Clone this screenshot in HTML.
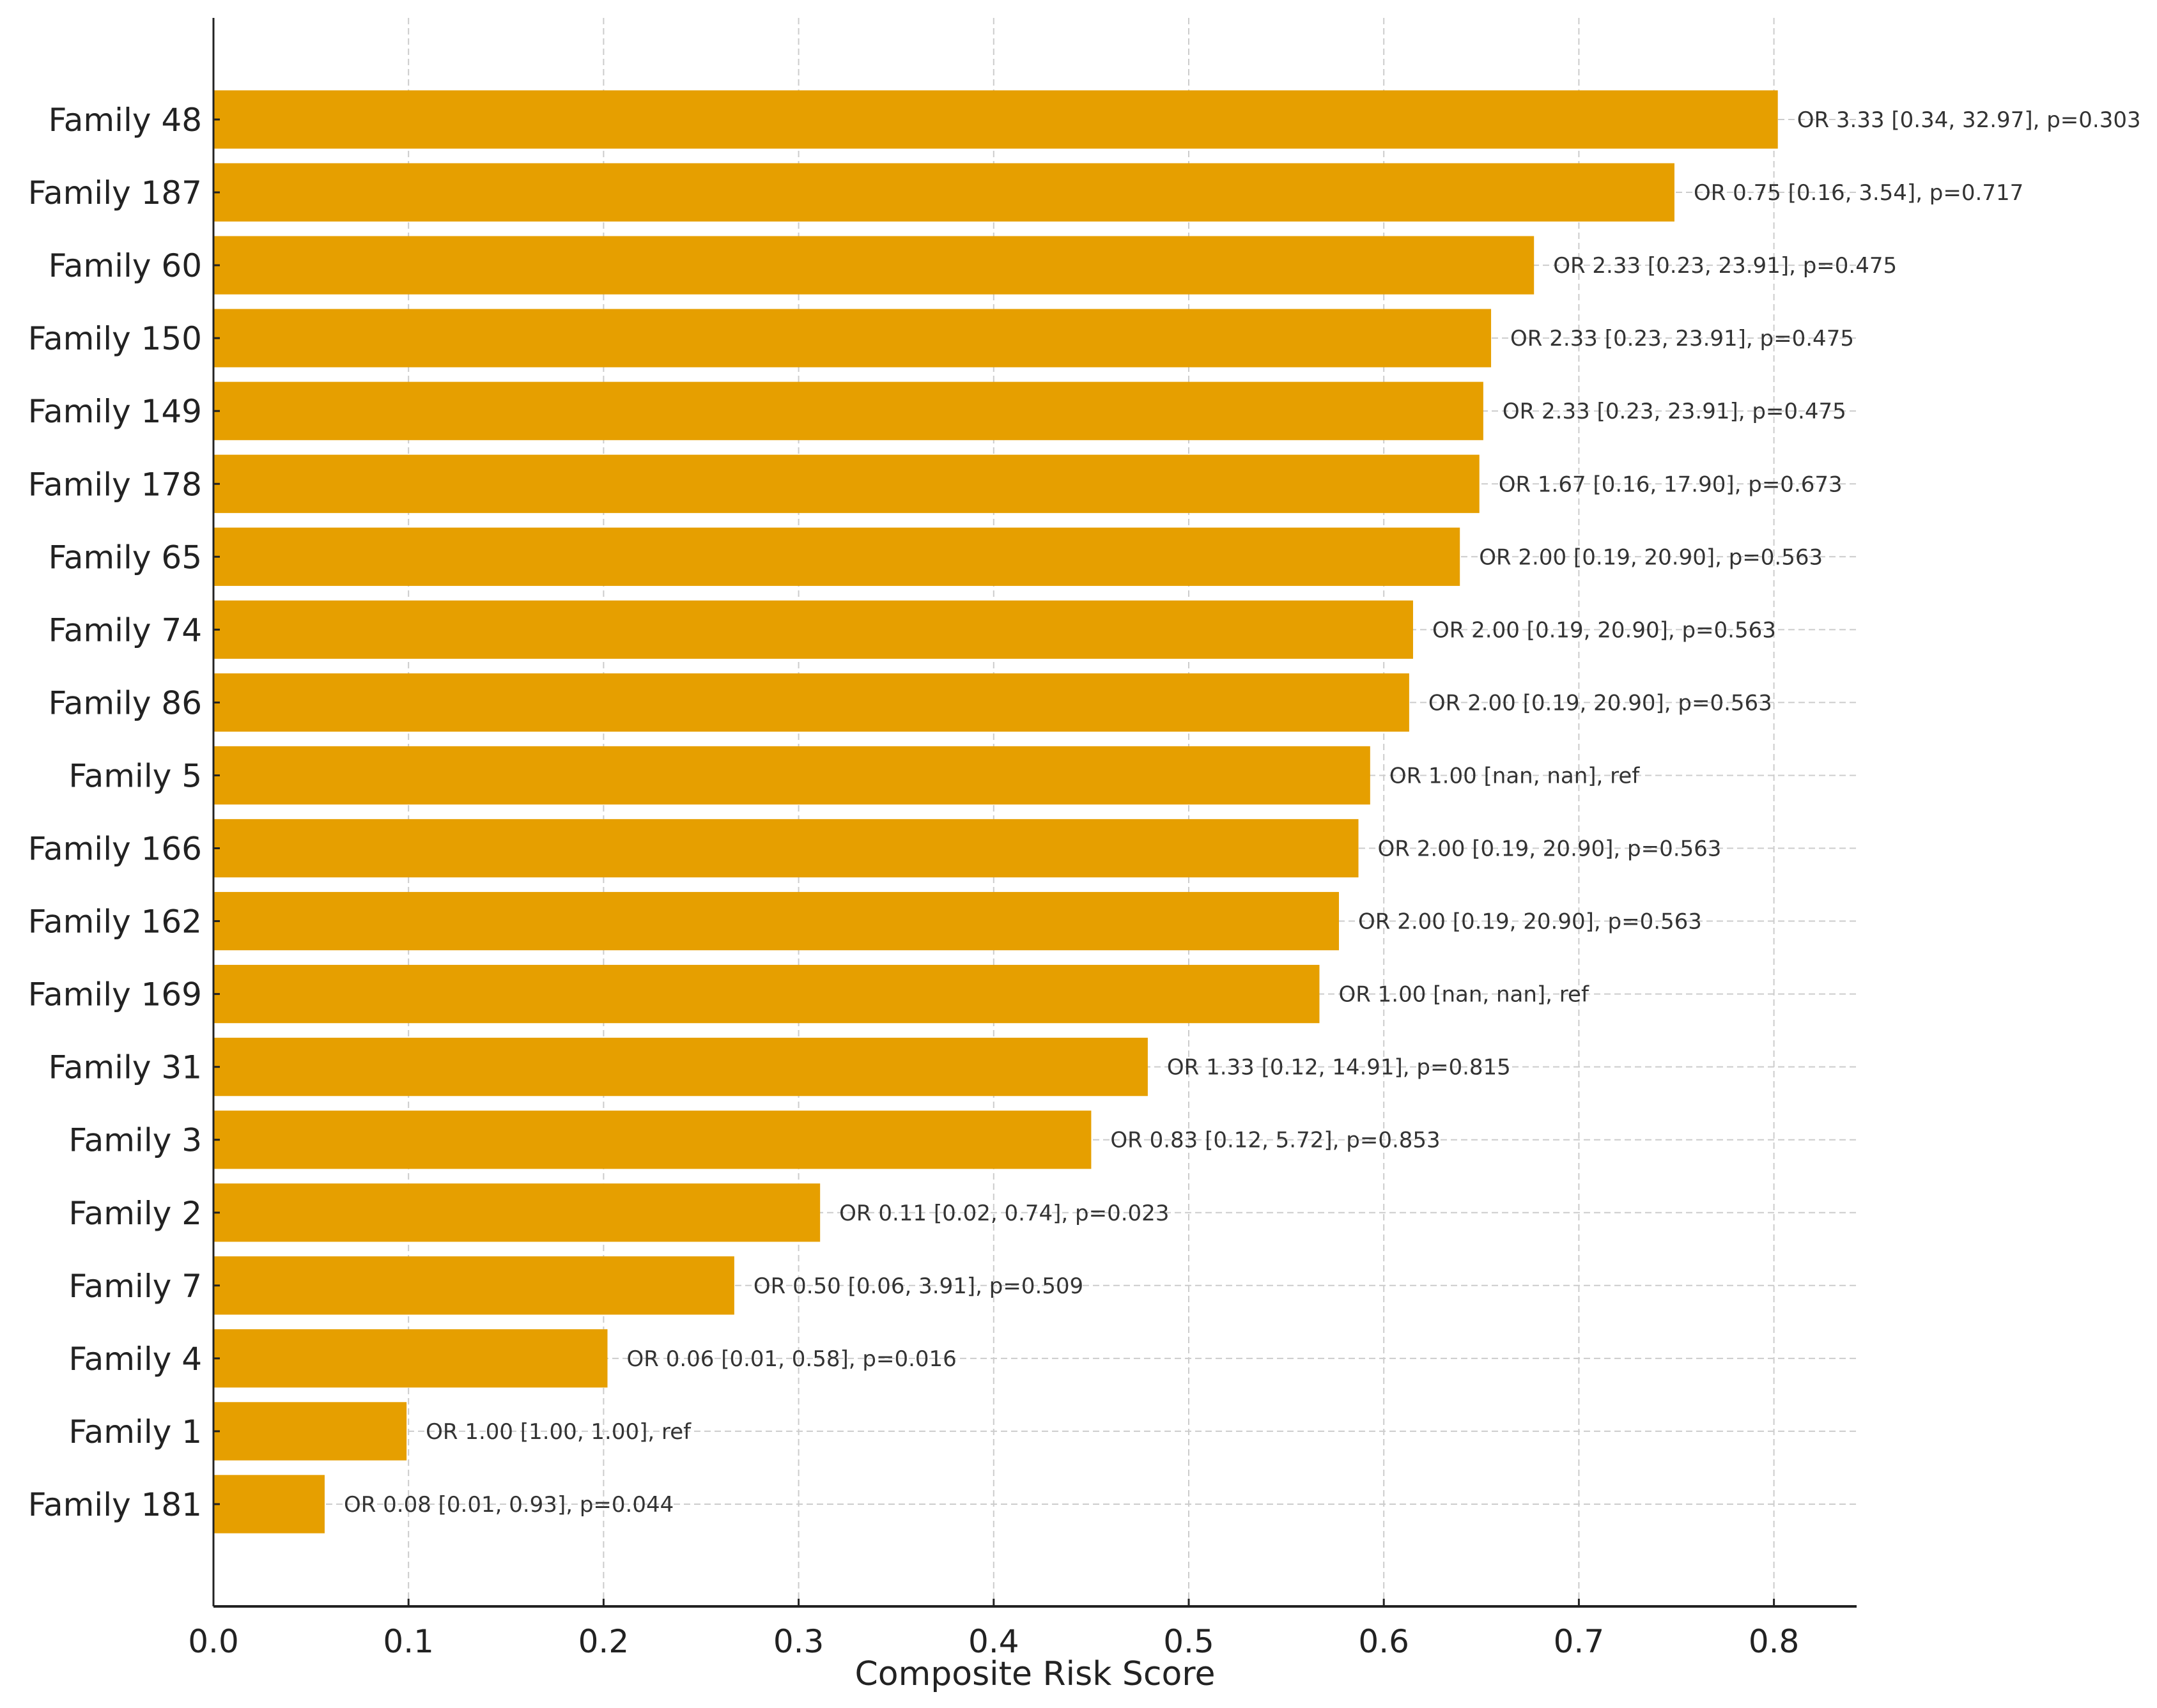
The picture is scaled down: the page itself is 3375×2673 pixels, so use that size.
<!DOCTYPE html>
<html><head><meta charset="utf-8"><style>
html,body{margin:0;padding:0;background:#fff;}
svg{display:block;font-family:"DejaVu Sans","Liberation Sans",sans-serif;}
</style></head><body>
<svg id="chart" width="3375" height="2673" viewBox="0 0 3375 2673"></svg>
<script>
const categories=["Family 48","Family 187","Family 60","Family 150","Family 149","Family 178","Family 65","Family 74","Family 86","Family 5","Family 166","Family 162","Family 169","Family 31","Family 3","Family 2","Family 7","Family 4","Family 1","Family 181"];
const scores=[0.802,0.749,0.677,0.655,0.651,0.649,0.639,0.615,0.613,0.593,0.587,0.577,0.567,0.479,0.450,0.311,0.267,0.202,0.099,0.057];
const annotations=["OR 3.33 [0.34, 32.97], p=0.303","OR 0.75 [0.16, 3.54], p=0.717","OR 2.33 [0.23, 23.91], p=0.475","OR 2.33 [0.23, 23.91], p=0.475","OR 2.33 [0.23, 23.91], p=0.475","OR 1.67 [0.16, 17.90], p=0.673","OR 2.00 [0.19, 20.90], p=0.563","OR 2.00 [0.19, 20.90], p=0.563","OR 2.00 [0.19, 20.90], p=0.563","OR 1.00 [nan, nan], ref","OR 2.00 [0.19, 20.90], p=0.563","OR 2.00 [0.19, 20.90], p=0.563","OR 1.00 [nan, nan], ref","OR 1.33 [0.12, 14.91], p=0.815","OR 0.83 [0.12, 5.72], p=0.853","OR 0.11 [0.02, 0.74], p=0.023","OR 0.50 [0.06, 3.91], p=0.509","OR 0.06 [0.01, 0.58], p=0.016","OR 1.00 [1.00, 1.00], ref","OR 0.08 [0.01, 0.93], p=0.044"];
const xTicks=[0,0.1,0.2,0.3,0.4,0.5,0.6,0.7,0.8];
const xTickLabels=["0.0","0.1","0.2","0.3","0.4","0.5","0.6","0.7","0.8"];

const svg=document.getElementById('chart');
const NS='http://www.w3.org/2000/svg';
const L=334,R=2905,T=28,B=2514;
const x0=334,pxPerUnit=3052;
const xs=v=>x0+v*pxPerUnit;
const yTop=187,step=114.05;
const ys=i=>yTop+i*step;
const bh=step*0.8;
function mk(tag,attrs){const e=document.createElementNS(NS,tag);for(const k in attrs)e.setAttribute(k,attrs[k]);svg.appendChild(e);return e;}

xTicks.forEach((t,i)=>{
  const g=mk('line',{x1:xs(t),x2:xs(t),y1:T,y2:B,stroke:'#cccccc','stroke-width':2,'stroke-dasharray':'10,6'});
  
  
});
categories.forEach((c,i)=>{
  const g=mk('line',{x1:L,x2:R,y1:ys(i),y2:ys(i),stroke:'#cccccc','stroke-width':2,'stroke-dasharray':'10,6'});
  
  
});
categories.forEach((c,i)=>{
  const r=mk('rect',{x:xs(0),y:ys(i)-bh/2,width:xs(scores[i])-xs(0),height:bh,fill:'#E69F00'});
  
  
  const a=mk('text',{x:xs(scores[i])+30,y:ys(i)+12,'font-size':34,fill:'#333'});
  a.textContent=annotations[i];
  
  
  const lb=mk('text',{x:L-18,y:ys(i)+18,'font-size':50,fill:'#222','text-anchor':'end'});
  lb.textContent=c;
  
  
  const tk=mk('line',{x1:L,x2:L+10,y1:ys(i),y2:ys(i),stroke:'#222','stroke-width':3});
  
  
});
xTicks.forEach((t,i)=>{
  const tk=mk('line',{x1:xs(t),x2:xs(t),y1:B,y2:B-12,stroke:'#222','stroke-width':3});
  
  
  const lb=mk('text',{x:xs(t),y:B+72,'font-size':50,fill:'#222','text-anchor':'middle'});
  lb.textContent=xTickLabels[i];
  
  
});
const ya=mk('line',{x1:L,x2:L,y1:T,y2:B,stroke:'#222','stroke-width':3});


const xa=mk('line',{x1:L,x2:R,y1:B,y2:B,stroke:'#222','stroke-width':4});


const xt=mk('text',{x:(L+R)/2,y:2637,'font-size':52,fill:'#222','text-anchor':'middle'});
xt.textContent='Composite Risk Score';


</script>
</body></html>
